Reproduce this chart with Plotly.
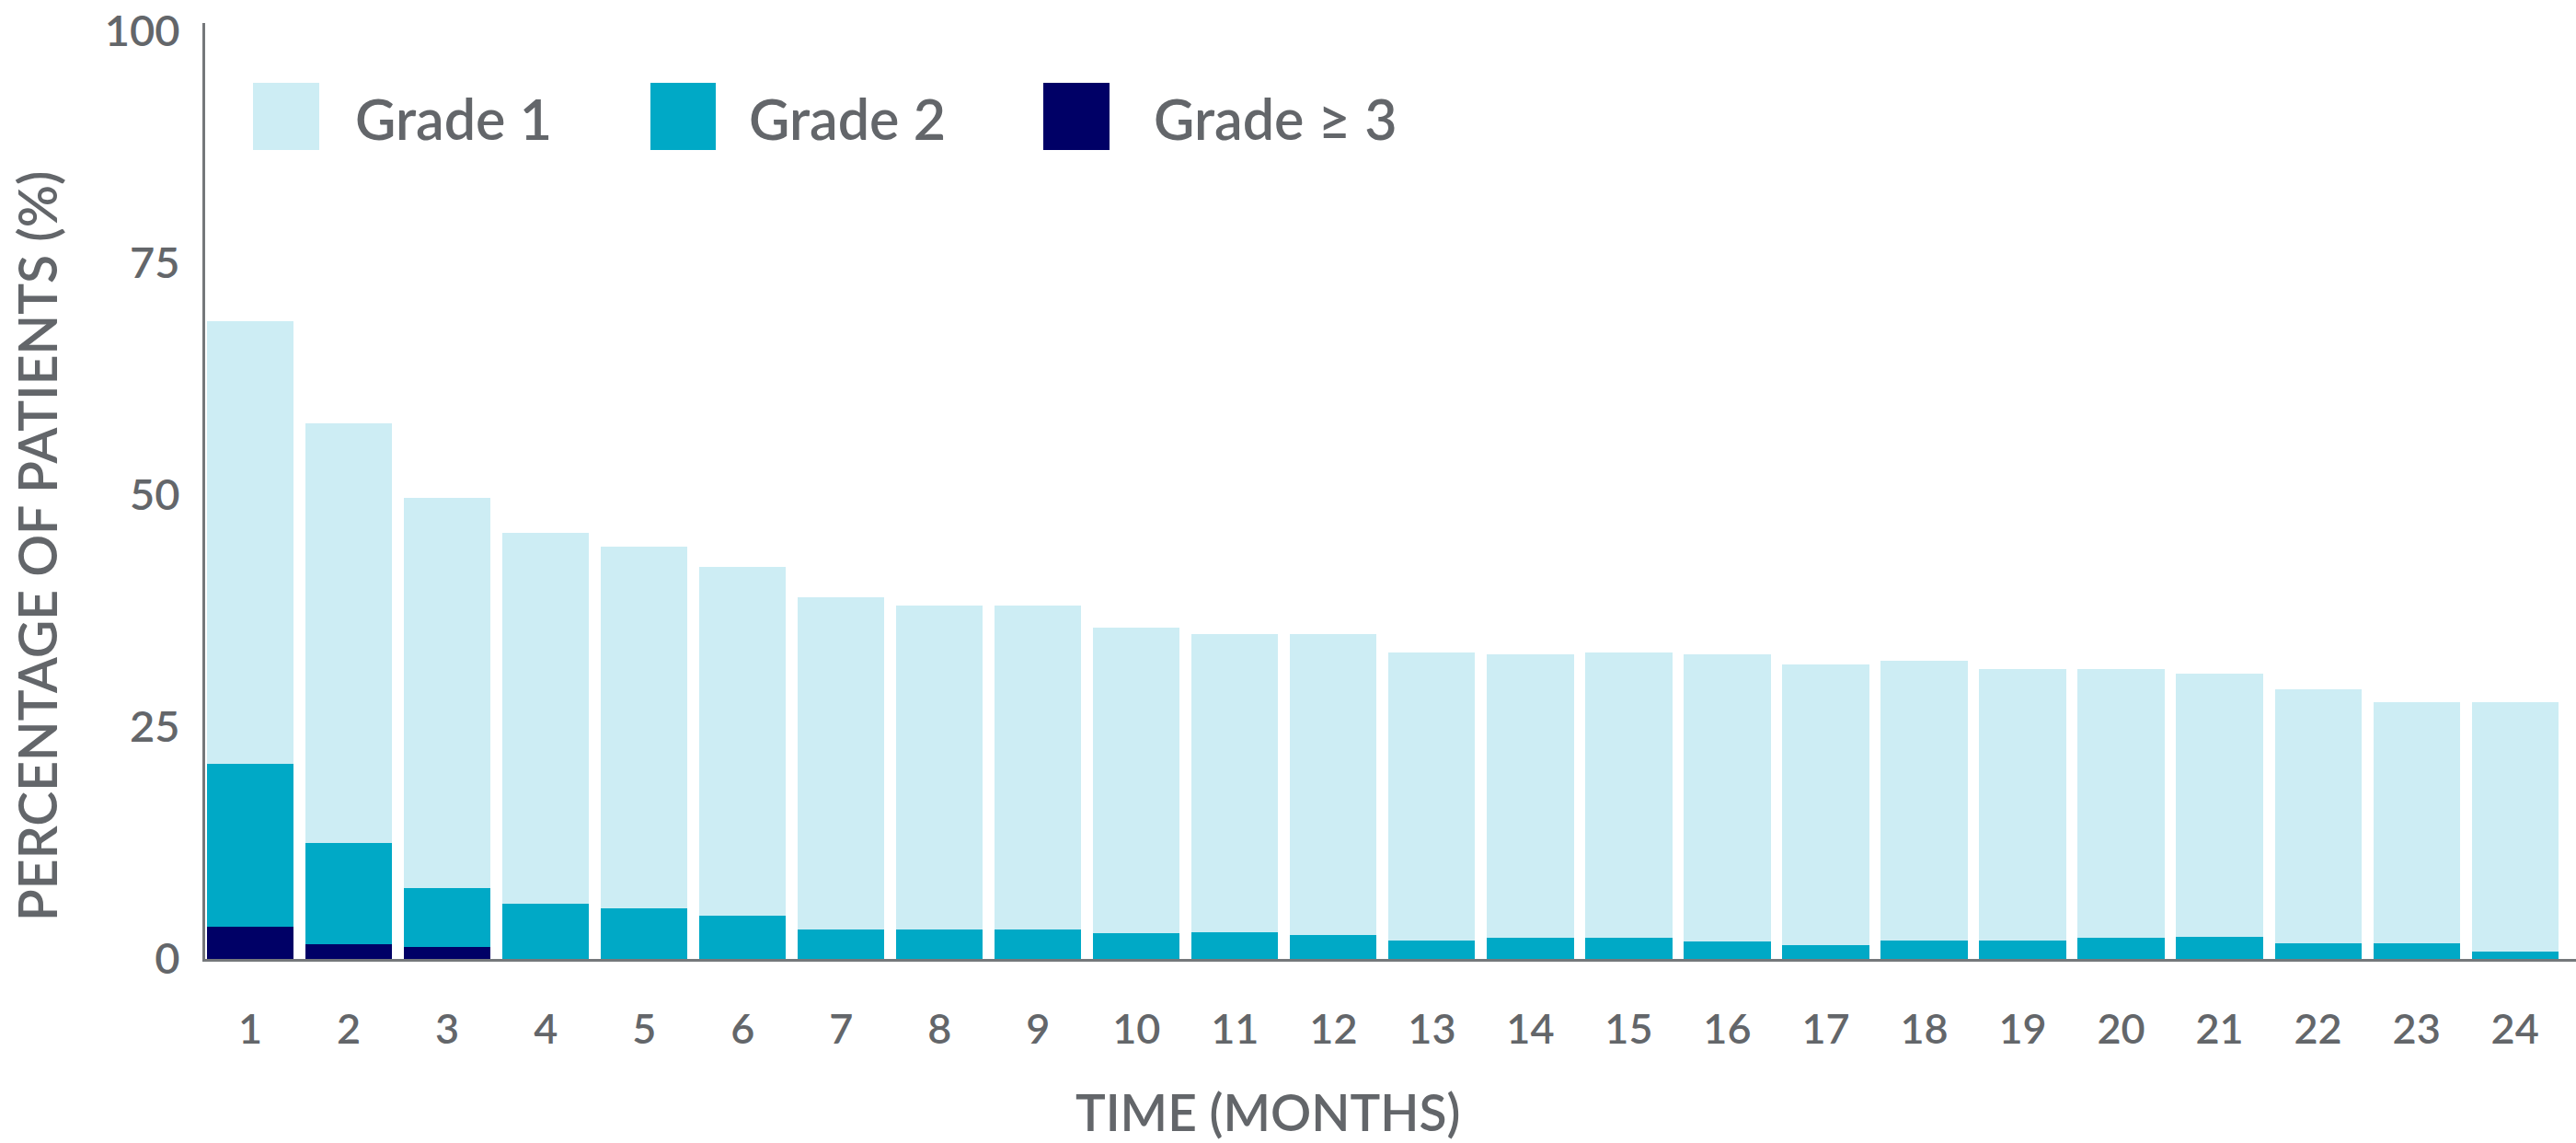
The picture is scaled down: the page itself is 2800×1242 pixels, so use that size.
import plotly.graph_objects as go

months = list(range(1, 25))
month_labels = [str(m) for m in months]
grade1 = [47.7, 45.2, 42.1, 40.0, 38.9, 37.5, 35.8, 34.9, 34.9, 32.9, 32.1, 32.4,
          31.0, 30.5, 30.7, 30.9, 30.2, 30.1, 29.2, 28.9, 28.3, 27.3, 26.0, 26.9]
grade2 = [17.5, 10.9, 6.3, 5.9, 5.5, 4.7, 3.2, 3.2, 3.2, 2.8, 2.9, 2.6,
          2.0, 2.3, 2.3, 1.9, 1.5, 2.0, 2.0, 2.3, 2.4, 1.7, 1.7, 0.8]
grade3 = [3.5, 1.6, 1.3, 0, 0, 0, 0, 0, 0, 0, 0, 0,
          0, 0, 0, 0, 0, 0, 0, 0, 0, 0, 0, 0]
series_names = ["Grade 1", "Grade 2", "Grade \u2265 3"]
colors = ["#cdedf4", "#00a9c6", "#000066"]
y_ticks = [0, 25, 50, 75, 100]

W, H = 2800, 1242
L, R, T, B = 223, 0, 25, 200
PW, PH = W - L - R, H - T - B
TXT = "#63666a"
AX = "#75787b"
FONT = "Lato"
WT = 600

def px(x):
    return (x - L) / PW

def py(y):
    return 1 - (y - T) / PH

fig = go.Figure()
for vals, name, col in [(grade3, series_names[2], colors[2]),
                        (grade2, series_names[1], colors[1]),
                        (grade1, series_names[0], colors[0])]:
    fig.add_trace(go.Bar(x=months, y=vals, name=name, marker_color=col,
                         marker_line_width=0, showlegend=False))

fig.update_layout(
    width=W, height=H, barmode="stack", bargap=0.12,
    margin=dict(l=L, r=R, t=T, b=B, pad=0),
    paper_bgcolor="white", plot_bgcolor="white",
    font=dict(family=FONT, color=TXT, weight=WT),
    xaxis=dict(range=[0.541, 24.62], tickvals=months, ticktext=month_labels,
               showgrid=False, zeroline=False, showline=True, linecolor=AX,
               linewidth=3, ticks="",
               tickfont=dict(size=45, color=TXT, family=FONT, weight=WT),
               ticklabelstandoff=35),
    yaxis=dict(range=[0, 100.8], tickvals=y_ticks, showgrid=False, zeroline=False,
               showline=True, linecolor=AX, linewidth=3, ticks="",
               tickfont=dict(size=47, color=TXT, family=FONT, weight=WT),
               ticklabelstandoff=15),
)

# axis titles
fig.add_annotation(x=px(1378), y=py(1208), xref="paper", yref="paper",
                   xanchor="center", yanchor="middle",
                   text="TIME (MONTHS)", showarrow=False,
                   font=dict(size=55, color=TXT, family=FONT, weight=WT))
fig.add_annotation(x=px(40), y=py(594), xref="paper", yref="paper",
                   xanchor="center", yanchor="middle",
                   text="PERCENTAGE OF PATIENTS (%)", showarrow=False, textangle=-90,
                   font=dict(size=57, color=TXT, family=FONT, weight=WT))

# legend
sw = [(275, 347), (707, 778), (1134, 1206)]
tx = [384, 812, 1252]
for (x0, x1), t, name, col in zip(sw, tx, series_names, colors):
    fig.add_shape(type="rect", xref="paper", yref="paper",
                  x0=px(x0), x1=px(x1), y0=py(90), y1=py(163),
                  fillcolor=col, line_width=0)
    fig.add_annotation(x=px(t), y=py(128), xref="paper", yref="paper",
                       xanchor="left", yanchor="middle", text=name, showarrow=False,
                       font=dict(size=61, color=TXT, family=FONT, weight=WT))

fig.write_html("out.html")
